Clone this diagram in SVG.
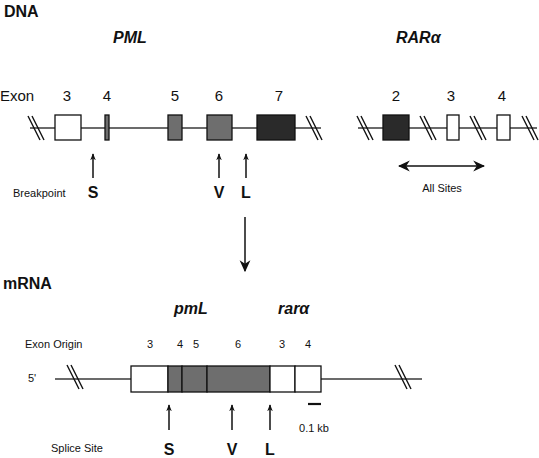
<svg xmlns="http://www.w3.org/2000/svg" xmlns:xlink="http://www.w3.org/1999/xlink" width="539" height="458" viewBox="0 0 539 458">
<style>
text{font-family:"Liberation Sans",Arial,sans-serif;fill:#111}
.h{font-weight:bold;font-size:16px}
.hi{font-weight:bold;font-style:italic;font-size:16px}
.n{font-size:15px}
.s{font-size:11px}
.sb{font-weight:bold;font-size:16px}
.ln{stroke:#3a3a3a;stroke-width:1.6;fill:none}
.bx{stroke:#111;stroke-width:1.3}
.w{fill:#fff}
.g{fill:#6e6e6e}
.d{fill:#2a2a2a}
.ar{stroke:#111;stroke-width:1.5;fill:none}
</style>
<defs>
<g id="slash"><line x1="-8" y1="-12" x2="4" y2="12" stroke="#111" stroke-width="1.4"/><line x1="-4" y1="-12" x2="8" y2="12" stroke="#111" stroke-width="1.4"/></g>
<marker id="ah" viewBox="0 0 10 10" refX="9" refY="5" markerWidth="7" markerHeight="7" markerUnits="userSpaceOnUse" orient="auto"><path d="M0,1 L10,5 L0,9 L3,5 Z" fill="#111"/></marker>
<marker id="ahb" viewBox="0 0 10 10" refX="9" refY="5" markerWidth="12" markerHeight="12" markerUnits="userSpaceOnUse" orient="auto-start-reverse"><path d="M0,0.5 L10,5 L0,9.5 L3,5 Z" fill="#111"/></marker>
</defs>

<text class="h" x="4" y="17">DNA</text>
<text class="hi" x="113" y="43">PML</text>
<text class="hi" x="396" y="43">RARα</text>

<g id="exon-labels">
<text class="n" x="0" y="101">Exon</text>
<text class="n" x="67" y="101" text-anchor="middle">3</text>
<text class="n" x="107" y="101" text-anchor="middle">4</text>
<text class="n" x="175" y="101" text-anchor="middle">5</text>
<text class="n" x="219" y="101" text-anchor="middle">6</text>
<text class="n" x="279" y="101" text-anchor="middle">7</text>
<text class="n" x="396" y="101" text-anchor="middle">2</text>
<text class="n" x="451" y="101" text-anchor="middle">3</text>
<text class="n" x="502" y="101" text-anchor="middle">4</text>
</g>

<g id="pml-dna">
<line class="ln" x1="30" y1="128" x2="321" y2="128"/>
<use xlink:href="#slash" x="36" y="128"/>
<use xlink:href="#slash" x="314" y="128"/>
<rect id="pml-ex3" class="bx w" x="55" y="115" width="26" height="25"/>
<rect id="pml-ex4" class="bx g" x="105" y="115" width="4" height="25"/>
<rect id="pml-ex5" class="bx g" x="168" y="115" width="14" height="25"/>
<rect id="pml-ex6" class="bx g" x="207" y="115" width="25" height="25"/>
<rect id="pml-ex7" class="bx d" x="257" y="115" width="38" height="25"/>
</g>

<g id="rara-dna">
<line class="ln" x1="358" y1="128" x2="537" y2="128"/>
<use xlink:href="#slash" x="365" y="128"/>
<use xlink:href="#slash" x="428" y="128"/>
<use xlink:href="#slash" x="478" y="128"/>
<use xlink:href="#slash" x="530" y="128"/>
<rect id="rara-ex2" class="bx d" x="383" y="115" width="26" height="25"/>
<rect id="rara-ex3" class="bx w" x="447" y="115" width="12" height="25"/>
<rect id="rara-ex4" class="bx w" x="497" y="115" width="13" height="25"/>
</g>

<g id="breakpoints">
<text class="s" x="13" y="197">Breakpoint</text>
<text class="sb" x="93" y="198" text-anchor="middle">S</text>
<text class="sb" x="219" y="198" text-anchor="middle">V</text>
<text class="sb" x="246" y="198" text-anchor="middle">L</text>
<text class="s" x="442" y="192" text-anchor="middle">All Sites</text>
</g>

<g id="connectors">
<line class="ar" x1="93" y1="178" x2="93" y2="154" marker-end="url(#ah)"/>
<line class="ar" x1="219" y1="178" x2="219" y2="154" marker-end="url(#ah)"/>
<line class="ar" x1="246" y1="178" x2="246" y2="154" marker-end="url(#ah)"/>
<line class="ar" x1="399" y1="166" x2="484" y2="166" marker-start="url(#ahb)" marker-end="url(#ahb)"/>
<line class="ar" x1="245" y1="217" x2="245" y2="271" marker-end="url(#ahb)"/>
<line class="ar" x1="169" y1="430" x2="169" y2="405" marker-end="url(#ah)"/>
<line class="ar" x1="232" y1="430" x2="232" y2="405" marker-end="url(#ah)"/>
<line class="ar" x1="270" y1="430" x2="270" y2="405" marker-end="url(#ah)"/>
</g>

<text class="h" x="3" y="289">mRNA</text>
<text class="hi" x="174" y="314">pmL</text>
<text class="hi" x="278" y="314">rarα</text>

<g id="exon-origin">
<text class="s" x="25" y="348">Exon Origin</text>
<text class="s" x="150" y="348" text-anchor="middle">3</text>
<text class="s" x="180" y="348" text-anchor="middle">4</text>
<text class="s" x="196" y="348" text-anchor="middle">5</text>
<text class="s" x="238" y="348" text-anchor="middle">6</text>
<text class="s" x="282" y="348" text-anchor="middle">3</text>
<text class="s" x="308" y="348" text-anchor="middle">4</text>
</g>

<g id="mrna">
<text class="s" x="28" y="382">5'</text>
<line class="ln" x1="55" y1="379" x2="131" y2="379"/>
<line class="ln" x1="321" y1="379" x2="422" y2="379"/>
<use xlink:href="#slash" x="75" y="377"/>
<use xlink:href="#slash" x="403" y="377"/>
<rect class="bx w" x="131" y="366" width="37" height="26"/>
<rect class="bx g" x="168" y="366" width="14" height="26"/>
<rect class="bx g" x="182" y="366" width="25" height="26"/>
<rect class="bx g" x="207" y="366" width="63" height="26"/>
<rect class="bx w" x="270" y="366" width="25" height="26"/>
<rect class="bx w" x="295" y="366" width="26" height="26"/>
</g>

<g id="scale">
<line x1="308" y1="404" x2="321" y2="404" stroke="#111" stroke-width="2.2"/>
<text class="s" x="314" y="432" text-anchor="middle">0.1 kb</text>
</g>

<g id="splice">
<text class="s" x="51" y="452">Splice Site</text>
<text class="sb" x="169" y="455" text-anchor="middle">S</text>
<text class="sb" x="232" y="455" text-anchor="middle">V</text>
<text class="sb" x="270" y="455" text-anchor="middle">L</text>
</g>
</svg>
